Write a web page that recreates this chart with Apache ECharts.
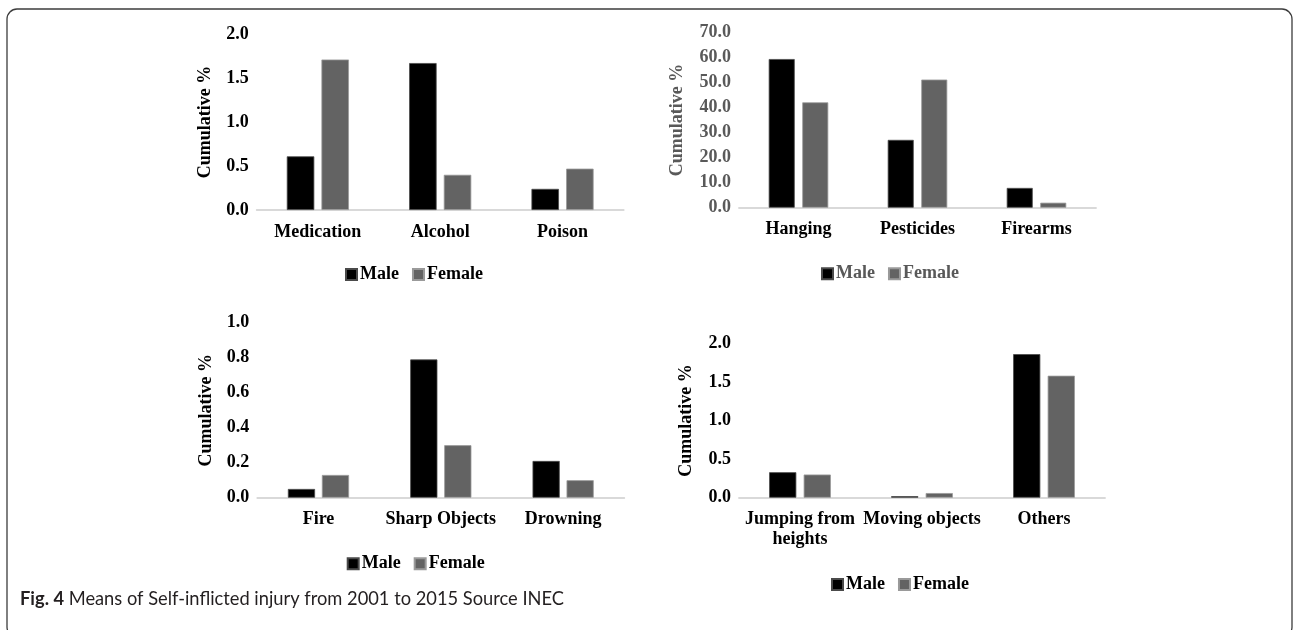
<!DOCTYPE html>
<html>
<head>
<meta charset="utf-8">
<script src="https://cdn.jsdelivr.net/npm/echarts@6/dist/echarts.min.js"></script>
<style>
html,body{margin:0;padding:0;background:#fff;}
#c{width:1295px;height:630px;}
</style>
</head>
<body>
<div id="c"></div>
<script>
// ---- data ----
const catsA = ['Medication', 'Alcohol', 'Poison'];
const maleA = [0.61, 1.67, 0.24];
const femaleA = [1.71, 0.40, 0.47];
const ticksA = [0, 2.0, 0.5];

const catsB = ['Hanging', 'Pesticides', 'Firearms'];
const maleB = [59.4, 27.1, 7.9];
const femaleB = [42.1, 51.2, 2.0];
const ticksB = [0, 70, 10];

const catsC = ['Fire', 'Sharp Objects', 'Drowning'];
const maleC = [0.05, 0.79, 0.21];
const femaleC = [0.13, 0.30, 0.10];
const ticksC = [0, 1.0, 0.2];

const catsD = ['Jumping from heights', 'Moving objects', 'Others'];
const maleD = [0.33, 0.02, 1.86];
const femaleD = [0.30, 0.06, 1.58];
const ticksD = [0, 2.0, 0.5];

const seriesNames = ['Male', 'Female'];
const caption = ['Fig. 4', ' Means of Self-inflicted injury from 2001 to 2015 Source INEC'];
const yName = 'Cumulative %';

// ---- styles ----
const SERIF = '"Liberation Serif", "Times New Roman", serif';
const BLACK = '#000000';
const GREY_TXT = '#595959';
const MALE_COL = '#000000';
const FEMALE_COL = '#636363';

const grids = [
  {left: 256.7, top: 34, width: 367, height: 176},
  {left: 739, top: 32.5, width: 357, height: 175.2},
  {left: 257.3, top: 322.7, width: 367, height: 175},
  {left: 739, top: 343.3, width: 366, height: 154.4}
];
const nameGaps = [42.7, 53, 42.3, 43.3];
const txtCols = [BLACK, GREY_TXT, BLACK, BLACK];
const barW = [27.5, 26, 27.2, 27.2];
const barGaps = ['26%', '29%', '25%', '27%'];
const cats = [catsA, catsB, catsC, catsD];
const males = [maleA, maleB, maleC, maleD];
const females = [femaleA, femaleB, femaleC, femaleD];
const ticks = [ticksA, ticksB, ticksC, ticksD];
const legendPos = [
  {left: 340, top: 260.5},
  {left: 816, top: 259.8},
  {left: 341.7, top: 549.8},
  {left: 826, top: 570.5}
];

const xAxes = [], yAxes = [], series = [], legends = [];
for (let i = 0; i < 4; i++) {
  xAxes.push({
    type: 'category', gridIndex: i, data: cats[i],
    axisLine: {show: true, lineStyle: {color: '#d9d9d9', width: 1.8}},
    axisTick: {show: false},
    axisLabel: {
      interval: 0, margin: 12, color: BLACK,
      fontFamily: SERIF, fontWeight: 'bold', fontSize: 18, lineHeight: 20,
      formatter: v => v.replace(' from heights', ' from\nheights')
    }
  });
  yAxes.push({
    type: 'value', gridIndex: i,
    min: ticks[i][0], max: ticks[i][1], interval: ticks[i][2],
    axisLine: {show: false}, axisTick: {show: false}, splitLine: {show: false},
    axisLabel: {
      margin: 8, color: txtCols[i],
      fontFamily: SERIF, fontWeight: 'bold', fontSize: 18,
      formatter: v => Number(v).toFixed(1)
    },
    name: yName, nameLocation: 'middle', nameRotate: 90, nameGap: nameGaps[i],
    nameTextStyle: {color: txtCols[i], fontFamily: SERIF, fontWeight: 'bold', fontSize: 18}
  });
  series.push({
    type: 'bar', name: seriesNames[0], xAxisIndex: i, yAxisIndex: i,
    data: males[i], barWidth: barW[i], barGap: barGaps[i],
    itemStyle: {color: MALE_COL, borderColor: '#4a4a4a', borderWidth: 0.8},
    emphasis: {disabled: true}
  });
  series.push({
    type: 'bar', name: seriesNames[1], xAxisIndex: i, yAxisIndex: i,
    data: females[i], barWidth: barW[i], barGap: barGaps[i],
    itemStyle: {color: FEMALE_COL, borderColor: '#9a9a9a', borderWidth: 0.8},
    emphasis: {disabled: true}
  });
  legends.push({
    data: seriesNames, left: legendPos[i].left, top: legendPos[i].top,
    orient: 'horizontal', icon: 'rect', itemWidth: 11, itemHeight: 11, itemGap: 13,
    selectedMode: false,
    textStyle: {color: txtCols[i], fontFamily: SERIF, fontWeight: 'bold', fontSize: 18, padding: [0, 0, 0, -2]}
  });
}

const chart = echarts.init(document.getElementById('c'), null, {renderer: 'canvas'});
chart.setOption({
  animation: false,
  backgroundColor: '#ffffff',
  grid: grids,
  xAxis: xAxes,
  yAxis: yAxes,
  series: series,
  legend: legends,
  graphic: [
    {
      type: 'rect', silent: true,
      shape: {x: 7, y: 9, width: 1285, height: 628, r: 10},
      style: {fill: 'none', stroke: '#3c3c3c', lineWidth: 1.3}
    },
    {
      type: 'text', silent: true, left: 20, top: 590,
      style: {
        text: '{b|' + caption[0] + '}{r|' + caption[1] + '}',
        rich: {
          b: {fontFamily: 'Lato, "Open Sans", sans-serif', fontWeight: 'bold', fontSize: 18.3, fill: '#231f20'},
          r: {fontFamily: 'Lato, "Open Sans", sans-serif', fontWeight: 'normal', fontSize: 18.3, fill: '#231f20'}
        }
      }
    }
  ]
});
</script>
</body>
</html>
